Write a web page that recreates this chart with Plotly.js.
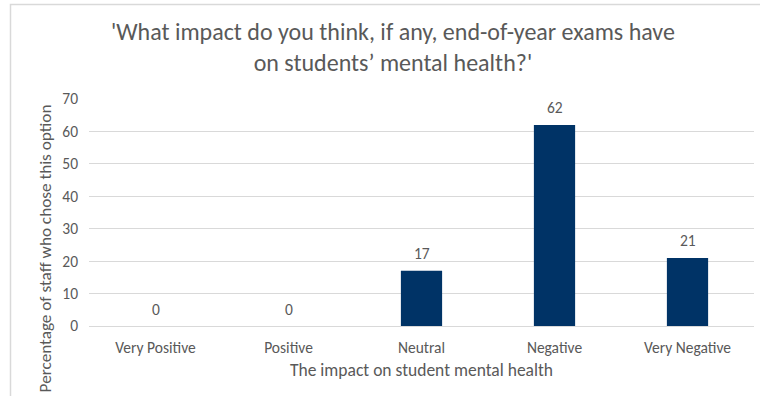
<!DOCTYPE html>
<html>
<head>
<meta charset="utf-8">
<script src="https://cdn.plot.ly/plotly-3.0.1.min.js"></script>
<style>html,body{margin:0;padding:0;background:#fff;}#chart{width:760px;height:396px;}</style>
</head>
<body>
<div id="chart"></div>
<script>
const categories = ["Very Positive", "Positive", "Neutral", "Negative", "Very Negative"];
const percentages = [0, 0, 17, 62, 21];
const yTicks = [0, 10, 20, 30, 40, 50, 60, 70];
const titleText = "'What impact do you think, if any, end-of-year exams have<br>on students\u2019 mental health?'";
const xTitle = "The impact on student mental health";
const yTitle = "Percentage of staff who chose this option";

const FONT = "Carlito, Calibri, Lato, 'Open Sans', sans-serif";
const GREY = "#595959";

const annotations = categories.map((c, i) => ({
  x: c, y: percentages[i], xref: "x", yref: "y",
  text: String(percentages[i]), showarrow: false,
  yanchor: "middle", yshift: 17,
  font: {family: FONT, size: 15.5, color: GREY}
}));
annotations.push({
  xref: "paper", yref: "paper", x: -0.065, y: 0.984,
  xanchor: "center", yanchor: "top", textangle: -90,
  text: yTitle, showarrow: false,
  font: {family: FONT, size: 17.2, color: GREY}
});

const trace = {
  type: "bar", x: categories, y: percentages,
  width: 0.31,
  marker: {color: "#003366", line: {width: 0}},
  hoverinfo: "x+y"
};

const layout = {
  width: 760, height: 396,
  margin: {l: 89, r: 6, t: 99, b: 70, pad: 0},
  paper_bgcolor: "#ffffff", plot_bgcolor: "#ffffff",
  showlegend: false,
  title: {
    text: titleText, xref: "container", yref: "container",
    x: 0.517, xanchor: "center", y: 1 - 40/396, yanchor: "middle",
    font: {family: FONT, size: 24, weight: 300, color: GREY}
  },
  xaxis: {
    type: "category", categoryorder: "array", categoryarray: categories,
    showgrid: false, zeroline: false, showline: true, linecolor: "#d9d9d9", linewidth: 1,
    ticks: "", ticklabelstandoff: 7,
    tickfont: {family: FONT, size: 15.5, color: GREY},
    title: {text: xTitle, standoff: 8, font: {family: FONT, size: 17.5, color: GREY}}
  },
  yaxis: {
    range: [0, 70], autorange: false, tickvals: yTicks,
    showgrid: true, gridcolor: "#d9d9d9", gridwidth: 1,
    zeroline: false, showline: false, ticks: "", ticklabelstandoff: 10,
    tickfont: {family: FONT, size: 15.5, color: GREY}
  },
  annotations: annotations,
  shapes: [{
    type: "rect", xref: "paper", yref: "paper",
    x0: (10.5 - 89) / 665, x1: (800 - 89) / 665,
    y0: (326 - 420) / 227, y1: (326 - 4.5) / 227,
    line: {color: "#d9d9d9", width: 1.5}, fillcolor: "rgba(0,0,0,0)", layer: "below"
  }]
};

Plotly.newPlot("chart", [trace], layout, {displayModeBar: false, staticPlot: true});
</script>
</body>
</html>
